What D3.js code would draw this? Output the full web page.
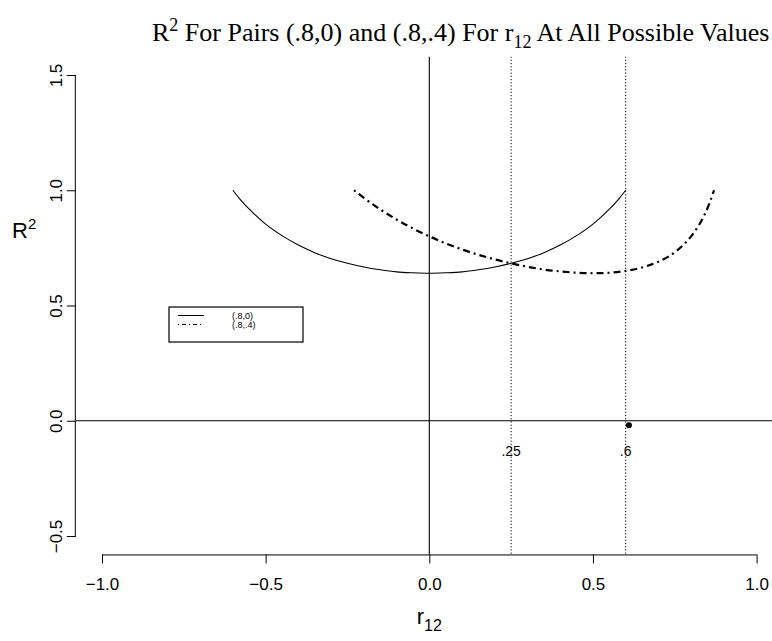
<!DOCTYPE html>
<html>
<head>
<meta charset="utf-8">
<script src="https://cdn.jsdelivr.net/npm/d3@7"></script>
<style>
  body { margin: 0; background: #fff; }
  svg { display: block; }
  .tick text, .lab { font-family: "Liberation Sans", Arial, sans-serif; }
</style>
</head>
<body>
<script>
// values
var r12Pair1 = [-0.6, -0.58, -0.55, -0.5, -0.45, -0.4, -0.35, -0.3, -0.25, -0.2, -0.15, -0.1, -0.05, 0,
  0.05, 0.1, 0.15, 0.2, 0.25, 0.3, 0.35, 0.4, 0.45, 0.5, 0.55, 0.58, 0.6];
var rsqPair1 = [1.0, 0.964, 0.918, 0.853, 0.803, 0.762, 0.729, 0.703, 0.683, 0.667, 0.655, 0.646, 0.642, 0.64,
  0.642, 0.646, 0.655, 0.667, 0.683, 0.703, 0.729, 0.762, 0.803, 0.853, 0.918, 0.964, 1.0];

var r12Pair2 = [-0.23, -0.2, -0.15, -0.1, -0.05, 0, 0.05, 0.1, 0.15, 0.2, 0.25, 0.3, 0.35, 0.4, 0.45,
  0.5, 0.55, 0.6, 0.65, 0.7, 0.75, 0.78, 0.8, 0.82, 0.84, 0.85, 0.86, 0.87];
var rsqPair2 = [1.0, 0.967, 0.917, 0.873, 0.834, 0.8, 0.77, 0.743, 0.72, 0.7, 0.683, 0.668, 0.656, 0.648, 0.642,
  0.64, 0.642, 0.65, 0.665, 0.69, 0.731, 0.768, 0.8, 0.84, 0.891, 0.922, 0.959, 1.0];

var legendLabels = ["(.8,0)", "(.8,.4)"];
var xTicks = [-1.0, -0.5, 0.0, 0.5, 1.0];
var yTicks = [-0.5, 0.0, 0.5, 1.0, 1.5];
var refLines = [0.25, 0.6];
var refLabels = [".25", ".6"];
var markPoint = [0.61, -0.02];

var width = 772, height = 641;

// plot region (R style, 4% padding round the ranges)
var x = d3.scaleLinear().domain([-1, 1]).range([102, 756.6]);
var y = d3.scaleLinear().domain([-0.5, 1.5]).range([536, 75]);
var plotL = x(-1.08), plotR = x(1.08), plotT = y(1.58), plotB = y(-0.58);

var svg = d3.select("body").append("svg")
    .attr("width", width)
    .attr("height", height);

// title
var title = svg.append("text")
    .attr("x", 152)
    .attr("y", 41)
    .style("font-family", "'Liberation Serif', 'Times New Roman', serif")
    .style("font-size", "26px");
title.append("tspan").text("R");
title.append("tspan").attr("dy", -10).style("font-size", "18px").text("2");
title.append("tspan").attr("dy", 10).text(" For Pairs (.8,0) and (.8,.4) For r");
title.append("tspan").attr("dy", 7).style("font-size", "18px").text("12");
title.append("tspan").attr("dy", -7).text(" At All Possible Values");

// axes
var xAxis = svg.append("g")
    .attr("transform", "translate(0," + plotB + ")")
    .call(d3.axisBottom(x).tickValues(xTicks).tickFormat(d3.format(".1f")).tickSize(9).tickSizeOuter(0));
xAxis.select(".domain").attr("d", "M" + x(-1) + ",0.5H" + x(1));
xAxis.selectAll(".tick text").attr("dy", 0).attr("y", 36).style("font-size", "17px");

var yAxis = svg.append("g")
    .attr("transform", "translate(" + plotL + ",0)")
    .call(d3.axisLeft(y).tickValues(yTicks).tickFormat(d3.format(".1f")).tickSize(9).tickSizeOuter(0));
yAxis.select(".domain").attr("d", "M-0.5," + y(-0.5) + "V" + y(1.5));
yAxis.selectAll(".tick text")
    .attr("x", null).attr("dy", null)
    .attr("text-anchor", "middle")
    .attr("dominant-baseline", "central")
    .attr("transform", "translate(-19,0) rotate(-90)")
    .style("font-size", "17px");
svg.selectAll(".domain, .tick line").attr("stroke", "#000");

// axis titles
var yl = svg.append("text").attr("class", "lab")
    .attr("x", 12).attr("y", 238).style("font-size", "22px");
yl.append("tspan").text("R");
yl.append("tspan").attr("dy", -9).style("font-size", "15px").text("2");

var xl = svg.append("text").attr("class", "lab")
    .attr("x", x(0)).attr("y", 624).attr("text-anchor", "middle").style("font-size", "22px");
xl.append("tspan").text("r");
xl.append("tspan").attr("dy", 7).style("font-size", "16px").text("12");

// reference lines
svg.append("clipPath").attr("id", "plotclip").append("rect")
    .attr("x", plotL).attr("y", plotT).attr("width", plotR - plotL).attr("height", plotB - plotT);
var plot = svg.append("g").attr("clip-path", "url(#plotclip)");

plot.append("line")
    .attr("x1", plotL).attr("x2", plotR)
    .attr("y1", y(0)).attr("y2", y(0))
    .attr("stroke", "#000").attr("stroke-width", 1.1);
plot.append("line")
    .attr("x1", x(0)).attr("x2", x(0))
    .attr("y1", plotT).attr("y2", plotB)
    .attr("stroke", "#000").attr("stroke-width", 1.1);
plot.selectAll(".ref")
    .data(refLines)
    .enter().append("line")
    .attr("class", "ref")
    .attr("x1", function(d) { return x(d); }).attr("x2", function(d) { return x(d); })
    .attr("y1", plotT).attr("y2", plotB)
    .attr("stroke", "#000").attr("stroke-width", 1)
    .attr("stroke-dasharray", "1.2,2");

// curves
var line = d3.line()
    .x(function(d) { return x(d[0]); })
    .y(function(d) { return y(d[1]); })
    .curve(d3.curveMonotoneX);

plot.append("path")
    .datum(d3.zip(r12Pair1, rsqPair1))
    .attr("d", line)
    .attr("fill", "none").attr("stroke", "#000").attr("stroke-width", 1.1);

plot.append("path")
    .datum(d3.zip(r12Pair2, rsqPair2))
    .attr("d", line)
    .attr("fill", "none").attr("stroke", "#000").attr("stroke-width", 2.2)
    .attr("stroke-dasharray", "2,4,7,4");

// labels on the reference lines
svg.selectAll(".reflab")
    .data(refLines)
    .enter().append("text")
    .attr("class", "lab")
    .attr("x", function(d) { return x(d); })
    .attr("y", y(-0.13))
    .attr("text-anchor", "middle")
    .attr("dominant-baseline", "central")
    .style("font-size", "14px")
    .text(function(d, i) { return refLabels[i]; });

svg.append("circle")
    .attr("cx", x(markPoint[0])).attr("cy", y(markPoint[1]))
    .attr("r", 3).attr("fill", "#000");

// legend
var leg = svg.append("g").attr("transform", "translate(169,307)");
leg.append("rect")
    .attr("width", 134).attr("height", 35)
    .attr("fill", "none").attr("stroke", "#000").attr("stroke-width", 1.2);
leg.selectAll(".lline")
    .data(legendLabels)
    .enter().append("line")
    .attr("x1", 9).attr("x2", 35)
    .attr("y1", function(d, i) { return 8.5 + i * 9; })
    .attr("y2", function(d, i) { return 8.5 + i * 9; })
    .attr("stroke", "#000").attr("stroke-width", 1)
    .attr("stroke-dasharray", function(d, i) { return i ? "1,3,4,3" : null; });
leg.selectAll(".ltext")
    .data(legendLabels)
    .enter().append("text")
    .attr("class", "lab")
    .attr("x", 63)
    .attr("y", function(d, i) { return 8.5 + i * 9; })
    .attr("dominant-baseline", "central")
    .style("font-size", "9px")
    .text(function(d) { return d; });
</script>
</body>
</html>
